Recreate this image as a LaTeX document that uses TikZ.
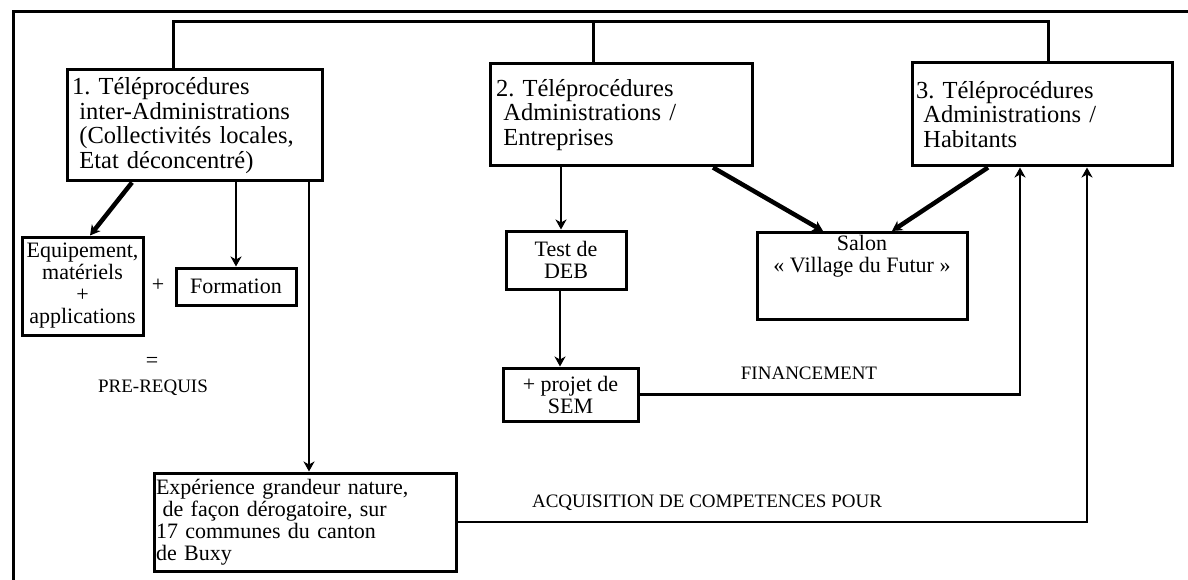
\documentclass[tikz,border=0pt]{standalone}
\usepackage{fontspec}
\setmainfont{Liberation Serif}
\usetikzlibrary{arrows.meta}
\frenchspacing

\begin{document}
\begin{tikzpicture}[x=1pt,y=-1pt,
  boite/.style={draw, line width=3pt, inner sep=3pt, font=\fontsize{22}{22}\selectfont},
  grand/.style={boite, align=left, font=\fontsize{24.5}{24.5}\selectfont},
  fleche/.style={line width=2.8pt, -{Stealth[length=10pt,width=11pt,inset=3pt]}},
  grosse/.style={fleche, line width=4.5pt},
  trait/.style={line width=3pt},
  signe/.style={font=\fontsize{22}{22}\selectfont},
  etiquette/.style={font=\fontsize{19}{19}\selectfont}]
\useasboundingbox (0,0) rectangle (1188,580);

\draw[trait] (13,580) -- (13,12) -- (1188,12);
\coordinate (haut) at (0,22);

\node[grand, minimum width=255pt, minimum height=111pt, text width=245pt] (t1) at (194.5,125.5) {1. Téléprocédures\\\hspace*{.3em}inter-Administrations\\\hspace*{.3em}(Collectivités locales,\\\hspace*{.3em}Etat déconcentré)};
\node[grand, minimum width=262pt, minimum height=102pt, text width=250pt] (t2) at (621,115) {2. Téléprocédures\\\hspace*{.3em}Administrations /\\\hspace*{.3em}Entreprises};
\node[grand, minimum width=260pt, minimum height=103pt, text width=252pt] (t3) at (1042,114.5) {3. Téléprocédures\\\hspace*{.3em}Administrations /\\\hspace*{.3em}Habitants};

\draw[trait] ([xshift=-21.5pt]t1.north) -- ([xshift=-21.5pt]t1.north |- haut) -| ([xshift=6pt]t3.north);
\draw[trait] ([xshift=-28pt]t2.north) -- ([xshift=-28pt]t2.north |- haut);

\node[boite, align=center, inner xsep=1pt, minimum width=121pt, minimum height=98pt] (equip) at (82.5,286) {Equipement,\\matériels\\+\\applications};
\node[boite, minimum width=120pt, minimum height=37pt] (form) at (236,286.5) {Formation};
\node[signe] (plus) at (158,285) {+};
\node[signe] (egal) at (152,362) {=};
\node[etiquette] (prereq) at (153,388) {PRE-REQUIS};

\node[boite, align=center, minimum width=120pt, minimum height=58pt] (deb) at (566,260) {Test de\\DEB};
\node[boite, align=center, minimum width=210pt, text depth=44pt, anchor=north] (salon) at (862,231) {Salon\\« Village du Futur »};
\node[boite, align=center, minimum width=135pt, minimum height=53pt] (sem) at (570.5,394.5) {+ projet de\\SEM};
\node[boite, align=left, inner sep=2pt, text width=298pt, minimum height=98pt] (exp) at (305,522) {Expérience grandeur nature,\\\hspace*{.3em}de façon dérogatoire, sur\\17 communes du canton\\de Buxy};

\node[etiquette] (finance) at (809,373) {FINANCEMENT};
\node[etiquette] (acquis) at (707,503) {ACQUISITION DE COMPETENCES POUR};

\draw[grosse] ([xshift=-62.5pt]t1.south) -- ([xshift=7.5pt]equip.north);
\draw[fleche] ([xshift=41.5pt]t1.south) -- (form.north);
\draw[fleche] ([xshift=114.5pt]t1.south) -- ([xshift=114.5pt]t1.south |- exp.north);
\draw[fleche] ([xshift=-60pt]t2.south) -- ([xshift=-60pt]t2.south |- deb.north);
\draw[fleche] ([xshift=-6pt]deb.south) -- ([xshift=-6pt]deb.south |- sem.north);
\draw[grosse] ([xshift=92pt]t2.south) -- ([xshift=-39pt]salon.north);
\draw[grosse] ([xshift=-54pt]t3.south) -- ([xshift=30pt]salon.north);
\draw[fleche] (sem.east) -| ([xshift=-22pt]t3.south);
\draw[fleche] (exp.east) -| ([xshift=45pt]t3.south);
\end{tikzpicture}
\end{document}
